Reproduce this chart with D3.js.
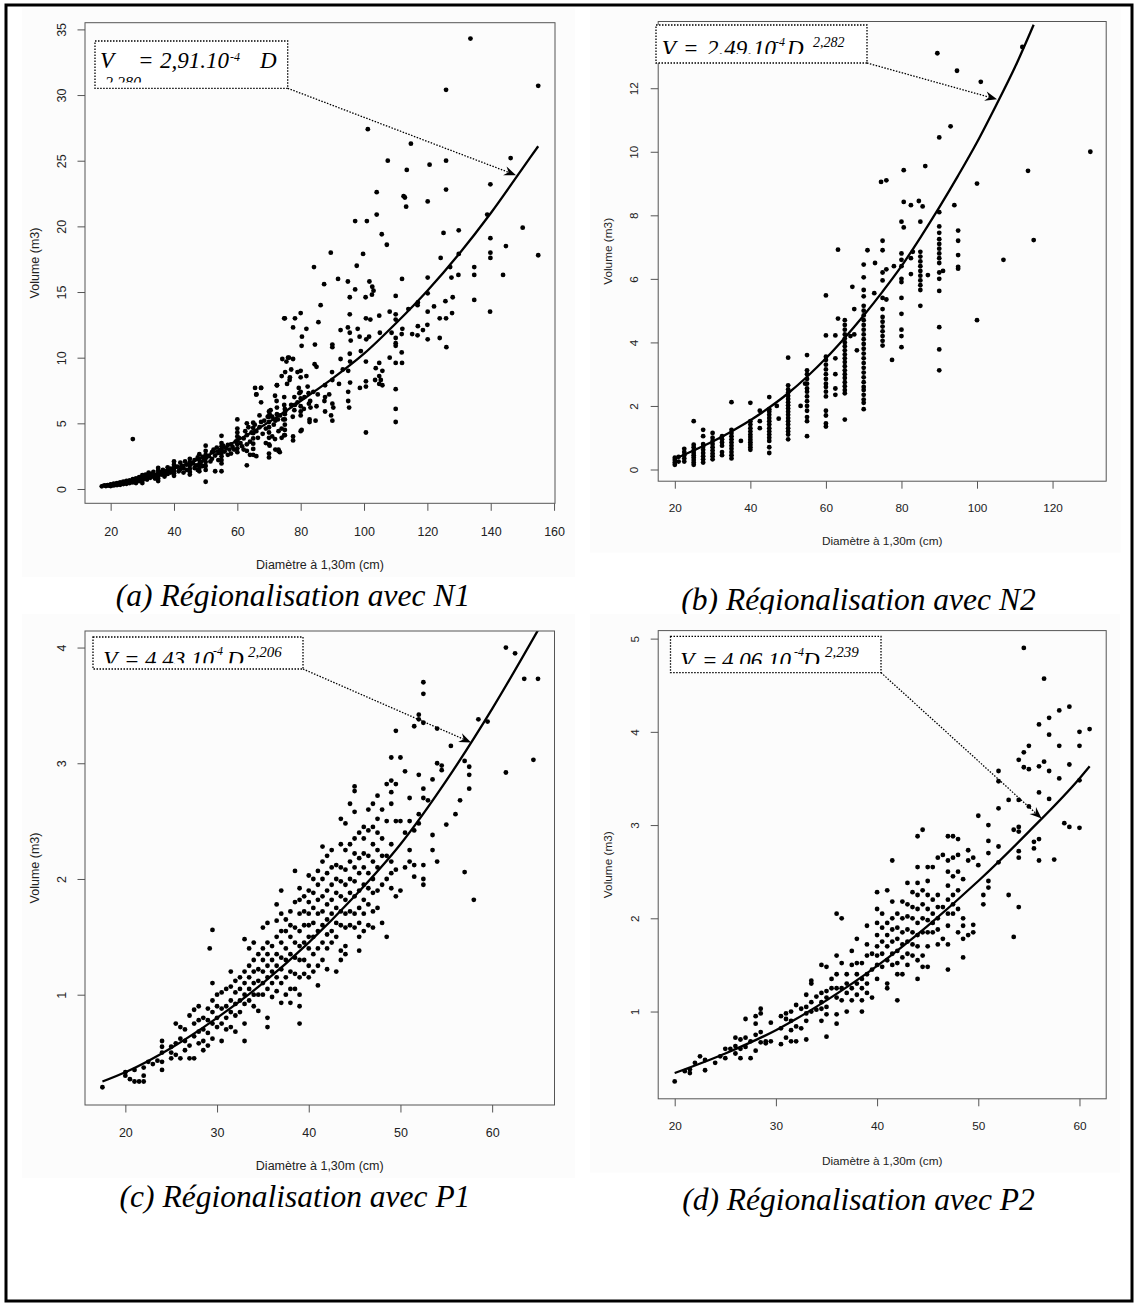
<!DOCTYPE html>
<html>
<head>
<meta charset="utf-8">
<script src="https://cdn.jsdelivr.net/npm/d3@7"></script>
<style>
body { margin: 0; background: #fff; }
text { font-family: "Liberation Sans", Arial, sans-serif; }
.cap, .eq { font-family: "Liberation Serif", "Times New Roman", serif; font-style: italic; }
</style>
</head>
<body>
<svg id="fig" width="1137" height="1305"></svg>
<script>
// ---- data: [diametre (cm), volume (m3)] ----

var ptsN1 = [
[17.2,0.2],[18,0.28],[18.5,0.22],[19,0.3],[19.5,0.25],[20,0.35],[20,0.22],[20.5,0.3],[21,0.4],[21,0.27],[21.5,0.33],[22,0.45],[22,0.3],[22.5,0.38],[23,0.5],[23,0.32],[23.5,0.42],[24,0.55],[24,0.38],[24.5,0.48],[25,0.62],[25,0.4],[25.5,0.52],[26,0.66],[26,0.45],[26.5,0.58],[27,0.75],[27,0.5],[27,3.8],[27.5,0.62],[28,0.8],[28,0.45],[28.5,0.68],[29,0.9],[29,0.6],[29.5,0.75],
[30,1.05],[30,0.85],[30,0.65],[30,0.45],[30.5,0.78],[31,1.1],[31,0.9],[31.5,0.72],[32,1.25],[32,1.0],[32.5,0.85],[33,1.15],[33,0.95],[33.5,1.3],[34,1.05],[34,0.8],[35,1.6],[35,1.4],[35,1.2],[35,1.0],[35,0.8],[35,0.6],[35.5,1.3],[36,1.1],[36.5,1.45],[37,1.2],[37,0.95],[37.5,1.35],[38,1.65],[38,1.15],[38.5,1.4],[39,1.55],[39,1.25],
[40,2.1],[40,1.85],[40,1.6],[40,1.4],[40,1.2],[40,1.0],[41,1.7],[41.5,1.35],[42,2.0],[42,1.5],[42.5,1.75],[43,1.6],[43,1.25],[43.5,2.1],[44,1.85],[44,1.45],[45,2.3],[45,2.05],[45,1.8],[45,1.55],[45,1.3],[45,1.1],[46,1.95],[46.5,2.2],[46.5,1.6],[47,1.8],[47.5,2.4],[47.5,1.45],[48,2.65],[48,2.2],[48,1.9],[48,1.6],[48,1.35],[48.5,2.05],[49,2.45],[49,1.75],[49.5,2.2],
[50,3.3],[50,2.9],[50,2.6],[50,2.35],[50,2.05],[50,1.75],[50,1.45],[50,0.55],[51,2.5],[51.5,2.1],[52,2.8],[52,2.3],[52.5,3.0],[53,2.55],[53,1.35],[53.5,3.15],[54,2.75],[54,2.2],[54.5,2.95],[55,4.05],[55,3.5],[55,3.25],[55,3.0],[55,2.75],[55,2.5],[55,2.2],[55,1.95],[55,1.35],[55.5,3.3],[56,2.85],[56.5,3.1],[57,3.35],[57,2.6],[57.5,3.0],[58,3.4],[58,2.7],[58.5,3.2],[59,3.0],[59.5,3.6],
[60,5.3],[60,4.6],[60,4.3],[60,4.0],[60,3.7],[60,3.4],[60,3.1],[60,2.8],[60.5,3.9],[61,3.5],[61.5,3.25],[62,3.85],[62,3.0],[62.5,4.4],[63,5.0],[63,4.1],[63,3.4],[63,2.9],[63,1.8],[63.5,4.7],[64,3.6],[64,2.6],[64.5,4.3],[65,5.05],[65,4.65],[65,4.25],[65,3.85],[65,3.45],[65,3.05],[65,2.6],[65.5,4.9],[66,7.2],[66,4.4],[66,2.5],[66.5,3.9],[67,5.6],[67,4.7],[67.5,7.7],[67.5,6.6],[67.5,5.1],[68,4.2],[68.5,5.2],[69,4.6],[69,3.5],
[70,5.9],[70,5.5],[70,5.1],[70,4.7],[70,4.3],[70,3.9],[70,3.4],[70,2.7],[70,2.4],[70.5,6.0],[71,5.5],[71,4.0],[71.5,4.9],[72,5.2],[72,3.0],[72.5,6.2],[72.5,7.9],[73,4.4],[73,2.9],[73.5,5.6],[74,4.6],[74,3.9],[74.5,5.3],[75,6.1],[75,5.7],[75,5.3],[75,4.9],[75,4.5],[75,4.1],[75,13.0],
[75.5,9.7],[76,10.0],[76.3,10.0],[76.5,8.3],[77,9.1],[77,6.4],[77.5,5.5],[78,6.0],[78.2,13.0],[79,6.6],[79,8.9],[74.8,13.0],[77.6,12.3],[80,13.4],[80,9.0],[80,8.5],[80,7.4],[80,6.9],[80,6.3],[80,4.4],[80.4,11.6],[80.3,10.9],[81,6.1],[81.8,12.2],[82.5,7.3],[83,6.7],[84.2,16.9],[84.4,9.5],[84.5,11.0],[85,9.3],[85.6,12.7],[86.3,14.0],[87.4,15.6],
[74.2,9.9],[77.6,9.9],[75.1,8.9],[74,8.6],[76.6,8.5],[81.8,8.6],[75.7,8.0],[72.5,7.9],[82.2,7.8],[87.7,7.9],[92.1,8.0],[65.6,7.7],[67.5,7.7],[79.4,7.7],[79.6,7.3],[81.2,7.0],[78,7.0],[84,7.4],[85.4,7.2],[87.7,7.0],[89,7.2],[71.9,7.1],[74.8,7.0],[66,7.2],[78.2,6.4],[74.8,6.4],[72.4,6.7],[82.6,6.5],[85,6.3],[87.5,6.7],[90,6.5],[90.3,6.2],[83.1,6.2],[80,5.9],[80,5.6],[87.7,5.9],[89.6,5.6],[75.1,5.9],[72.5,5.7],[70.2,5.7],[72.8,5.3],[69.6,5.5],[82.8,5.3],[84.7,5.2],[82.8,5.1],[90,5.2],[80.3,4.5],[77.6,4.0],[77.6,3.7],[74.8,4.1],[71.9,3.8],[73,3.0],[73.4,2.8],[70.2,3.3],
[89.5,18.0],[89.9,8.9],[90,11.0],[90,10.8],[90,8.3],[91.8,16.0],[92.6,12.1],[92.6,9.9],[93.3,9.1],[94.9,15.8],[94.9,12.3],[95,9.0],[95,7.4],[95,6.7],[95.3,6.2],[95.5,14.6],[95.5,13.3],[95.5,11.9],[95.5,10.3],[95.6,9.7],[95.6,8.1],[95.8,11.3],[97.2,20.4],[97.2,15.2],[97.7,17.0],[98,12.2],[98.6,11.6],[98.7,7.7],[99,10.5],[99.7,17.9],
[100.5,14.6],[100.6,13.0],[100.6,9.7],[100.6,8.2],[100.6,7.8],[100.6,4.3],[100.7,11.4],[100.9,20.4],[101.2,27.4],[101.6,11.6],[101.7,15.8],[102,12.9],[102.5,14.8],[102.6,15.4],[103,15.1],[103.5,8.3],[103.7,9.2],[104,22.6],[104,20.9],[104.8,13.2],[104.8,9.6],[104.8,8.6],[104.8,8.0],[105,11.9],[105.3,8.3],[105.6,19.4],[105.8,9.0],[105.8,7.9],[107.2,18.6],[107.5,25.0],[108.1,13.5],[108.1,10.0],[108.7,11.9],
[110,14.7],[110,13.3],[110,12.9],[110,11.5],[110,11.1],[110,10.9],[110,9.6],[110,7.6],[110,6.1],[110,5.1],[111.9,11.8],[111.9,10.4],[112,16.0],[112,9.6],[112.1,12.2],[112.5,22.3],[112.9,22.2],[113.3,21.5],[113.5,24.3],[114,13.7],[114.8,26.3],[115.2,11.8],[116.9,14.0],[116.9,11.7],[117,14.2],[117,12.4],[118.6,12.1],[120,12.5],[120.1,21.9],[120.1,16.1],[120.1,14.9],[120.1,13.5],[120.1,11.4],[120.7,24.7],[122.1,13.9],[123.9,13.0],[123.9,11.5],[124.2,17.6],
[125.1,19.5],[125.7,14.3],[125.9,30.4],[125.9,25.0],[125.9,22.8],[125.9,13.0],[126,10.8],[127.2,16.9],[127.6,16.1],[127.8,13.4],[128,14.6],[129.8,16.3],[129.9,19.7],[129.9,17.9],[133.6,34.3],[134.8,16.9],[134.8,16.3],[134.8,14.4],[138.9,20.9],[139.8,13.5],[139.9,23.2],[139.9,19.1],[139.9,18.0],[139.9,17.6],[143.9,16.3],[144.8,18.5],[146.3,25.2],[150.1,19.9],[155,30.7],[155,17.8]
];

var ptsN2 = [
[20,0.15],[20,0.22],[20,0.3],[20,0.37],[21,0.25],[21,0.4],[22.5,0.25],[22.5,0.35],[22.5,0.45],[22.5,0.55],[22.5,0.65],
[25,0.15],[25,0.22],[25,0.3],[25,0.38],[25,0.45],[25,0.52],[25,0.6],[25,0.7],[25,0.78],[25,1.52],
[27.5,0.22],[27.5,0.32],[27.5,0.42],[27.5,0.52],[27.5,0.62],[27.5,0.72],[27.5,0.8],[27.5,1.05],[27.5,1.25],
[30,0.32],[30,0.42],[30,0.5],[30,0.6],[30,0.7],[30,0.8],[30,0.9],[30,1.0],[30,1.15],
[32.5,0.45],[32.5,0.55],[32.5,0.75],[32.5,0.85],[32.5,0.95],[32.5,1.05],
[35,0.35],[35,0.45],[35,0.55],[35,0.65],[35,0.75],[35,0.85],[35,0.95],[35,1.05],[35,1.15],[35,1.25],[35,2.12],[37.5,0.9],
[40,0.62],[40,0.7],[40,0.78],[40,0.86],[40,0.94],[40,1.02],[40,1.1],[40,1.2],[40,1.3],[40,1.42],[40,1.52],[40,2.1],[42.5,1.3],[42.5,1.52],[42.5,1.85],
[45,0.52],[45,0.7],[45,0.9],[45,1.0],[45,1.1],[45,1.2],[45,1.3],[45,1.42],[45,1.52],[45,1.62],[45,1.72],[45,1.82],[45,1.9],[45,2.28],[47.5,1.6],[47,2.0],
[50,0.95],[50,1.1],[50,1.2],[50,1.3],[50,1.42],[50,1.52],[50,1.62],[50,1.72],[50,1.82],[50,1.92],[50,2.02],[50,2.12],[50,2.22],[50,2.32],[50,2.42],[50,2.52],[50,2.65],[50,3.52],[53.3,2.0],[54.5,2.7],
[55,1.05],[55,1.52],[55,1.65],[55,1.85],[55,2.0],[55,2.15],[55,2.3],[55,2.45],[55,2.55],[55,2.7],[55,2.85],[55,3.0],[55,3.12],[55,3.6],
[60,1.35],[60,1.45],[60,1.7],[60,1.85],[60,2.3],[60,2.45],[60,2.6],[60,2.7],[60,2.85],[60,3.0],[60,3.15],[60,3.3],[60,3.45],[60,3.55],[60,4.22],[60,5.48],
[62.5,2.35],[62.5,2.55],[62.5,3.0],[62.5,3.5],[62.5,4.22],[63.2,4.75],[63.2,6.92],
[65,1.57],[65,2.4],[65,2.5],[65,2.62],[65,2.75],[65,2.88],[65,3.0],[65,3.12],[65,3.25],[65,3.38],[65,3.5],[65,3.62],[65,3.75],[65,3.88],[65,4.0],[65,4.12],[65,4.25],[65,4.4],[65,4.55],[65,4.7],
[66.5,4.2],[67,5.75],[67.5,4.25],[67.5,5.05],[68.2,3.75],
[70,1.9],[70,2.1],[70,2.2],[70,2.35],[70,2.5],[70,2.6],[70,2.75],[70,2.9],[70,3.05],[70,3.2],[70,3.35],[70,3.5],[70,3.65],[70,3.8],[70,3.95],[70,4.1],[70,4.25],[70,4.4],[70,4.55],[70,4.7],[70,4.85],[70,5.0],[70,5.15],[70,5.45],[70,5.65],[70,6.05],[70,6.45],[71,6.9],[72.8,5.55],[73,6.5],
[75,3.9],[75,4.05],[75,4.2],[75,4.35],[75,4.5],[75,4.65],[75,4.8],[75,5.05],[75,5.4],[75,5.95],[75,6.2],[75,6.9],[75,7.2],[74.6,9.05],[76,9.1],[76,6.3],[76,5.35],[77.5,3.45],[78,6.4],
[80,3.85],[80,4.2],[80,4.4],[80,4.9],[80,5.4],[80,5.9],[80,6.0],[80,6.4],[80,6.6],[80,6.8],[80,7.8],[80.6,7.62],[80.6,8.42],[80.6,9.42],[82.5,6.15],[82.5,6.65],[82.5,8.32],[83,6.85],
[85,5.15],[85,5.65],[85,5.8],[85,5.95],[85,6.1],[85,6.25],[85,6.4],[85,6.55],[85,6.7],[85,6.85],[85,7.8],[84.6,8.45],[85.6,8.28],[86.3,9.55],[87,6.12],
[90,3.12],[90,3.78],[90,4.48],[90,5.62],[90,6.0],[90,6.2],[90,6.5],[90,6.65],[90,6.8],[90,6.95],[90,7.1],[90,7.25],[90,7.45],[90,7.65],[90,8.1],[90,10.45],[89.5,13.1],[91,6.25],[93,10.8],[94,8.32],[94.7,12.55],
[95,6.32],[95,6.38],[95,6.75],[95,7.2],[95,7.52],[100,9.0],[100,4.7],[101,12.2],[107,6.6],[112,13.3],[113.5,9.4],[115,7.22],[130,10.0]
];

var ptsP1 = [
[17.5,0.2],[20,0.3],[20,0.33],[20.5,0.27],[21,0.25],[21,0.35],[21.5,0.25],[22,0.25],[22,0.3],[22,0.37],[22.5,0.42],[23,0.4],[23.5,0.43],[24,0.35],[24,0.42],[24,0.5],[24,0.55],[24,0.6],
[25,0.45],[25,0.5],[25,0.55],[25.5,0.48],[25.5,0.58],[25.5,0.75],[26,0.45],[26,0.62],[26,0.72],[26.5,0.52],[26.5,0.6],[26.5,0.7],[27,0.45],[27,0.56],[27,0.82],[27.5,0.45],[27.5,0.64],[27.5,0.75],[27.5,0.87],[28,0.58],[28,0.68],[28,0.78],[28,0.9],[28.5,0.52],[28.5,0.6],[28.5,0.7],[28.5,0.8],[29,0.56],[29,0.67],[29,0.78],[29,0.88],[29.2,1.4],[29.5,0.62],[29.5,0.75],[29.5,0.85],[29.5,0.95],[29.5,1.1],[29.5,1.56],
[30,0.72],[30,0.8],[30,0.9],[30,1.0],[30.5,0.6],[30.5,0.75],[30.5,0.88],[30.5,1.02],[31,0.7],[31,0.8],[31,0.9],[31,1.05],[31.5,0.72],[31.5,0.85],[31.5,0.95],[31.5,1.07],[31.5,1.2],[32,0.68],[32,0.82],[32,0.92],[32,1.02],[32,1.12],[32.5,0.85],[32.5,0.95],[32.5,1.05],[32.5,1.15],
[33,0.6],[33,0.75],[33,0.92],[33,1.0],[33,1.1],[33,1.2],[33,1.48],[33.5,0.95],[33.5,1.05],[33.5,1.15],[33.5,1.25],[33.5,1.4],[34,0.9],[34,1.0],[34,1.1],[34,1.2],[34,1.3],[34,1.45],[34.5,0.86],[34.5,1.0],[34.5,1.12],[34.5,1.22],[34.5,1.35],
[35,1.0],[35,1.1],[35,1.2],[35,1.3],[35,1.4],[35,1.58],[35.5,0.72],[35.5,0.8],[35.5,1.05],[35.5,1.15],[35.5,1.25],[35.5,1.35],[35.5,1.45],[35.5,1.62],[36,0.98],[36,1.1],[36,1.2],[36,1.3],[36,1.42],[36.5,1.03],[36.5,1.15],[36.5,1.25],[36.5,1.35],[36.5,1.5],[36.5,1.64],[36.5,1.78],
[37,0.93],[37,1.1],[37,1.22],[37,1.32],[37,1.45],[37,1.55],[37,1.7],[37,1.9],[37.5,1.0],[37.5,1.15],[37.5,1.3],[37.5,1.4],[37.5,1.55],[37.5,1.65],[38,0.93],[38,1.05],[38,1.2],[38,1.35],[38,1.5],[38,1.6],[38,1.72],[38.5,1.05],[38.5,1.18],[38.5,1.32],[38.5,1.45],[38.5,1.58],[38.5,1.8],[38.5,2.07],
[39,0.75],[39,0.9],[39,1.0],[39,1.15],[39,1.3],[39,1.42],[39,1.55],[39,1.7],[39,1.82],[39,1.92],[39.5,1.18],[39.5,1.3],[39.5,1.45],[39.5,1.6],[39.5,1.72],[39.5,1.85],
[40,1.15],[40,1.25],[40,1.4],[40,1.5],[40,1.6],[40,1.7],[40,1.8],[40,1.9],[40,2.03],[40.5,1.2],[40.5,1.35],[40.5,1.5],[40.5,1.62],[40.5,1.75],[40.5,1.88],[40.5,2.0],[41,1.08],[41,1.25],[41,1.4],[41,1.55],[41,1.7],[41,1.82],[41,1.95],[41,2.07],[41.5,1.3],[41.5,1.45],[41.5,1.6],[41.5,1.72],[41.5,1.85],[41.5,2.0],[41.5,2.15],[41.5,2.28],
[42,1.22],[42,1.4],[42,1.52],[42,1.65],[42,1.78],[42,1.9],[42,2.05],[42,2.2],[42.5,1.45],[42.5,1.55],[42.5,1.7],[42.5,1.82],[42.5,1.95],[42.5,2.1],[42.5,2.25],[43,1.2],[43,1.5],[43,1.62],[43,1.75],[43,1.88],[43,2.0],[43,2.12],[43.5,1.3],[43.5,1.38],[43.5,1.6],[43.5,1.72],[43.5,1.85],[43.5,1.98],[43.5,2.1],[43.5,2.3],[43.5,2.52],
[44,1.35],[44,1.42],[44,1.58],[44,1.7],[44,1.82],[44,1.95],[44,2.08],[44,2.25],[44,2.48],[44.5,1.6],[44.5,1.72],[44.5,1.88],[44.5,2.0],[44.5,2.15],[44.5,2.3],[44.5,2.65],[45,1.58],[45,1.7],[45,1.85],[45,1.98],[45,2.1],[45,2.22],[45,2.35],[45,2.58],[45,2.76],[45,2.8],
[45.5,1.38],[45.5,1.5],[45.5,1.62],[45.5,1.75],[45.5,1.9],[45.5,2.05],[45.5,2.18],[45.5,2.4],[46,1.55],[46,1.7],[46,1.82],[46,1.95],[46,2.1],[46,2.22],[46,2.35],[46,2.45],[46.5,1.6],[46.5,1.78],[46.5,1.92],[46.5,2.05],[46.5,2.2],[46.5,2.42],[46.5,2.6],
[47,1.58],[47,1.72],[47,1.88],[47,2.0],[47,2.15],[47,2.3],[47,2.45],[47,2.65],[47.5,1.75],[47.5,1.9],[47.5,2.1],[47.5,2.25],[47.5,2.4],[47.5,2.52],[47.5,2.72],[48,1.62],[48,1.95],[48,2.2],[48,2.35],[48,2.6],[48.5,1.5],[48.5,2.0],[48.5,2.2],[48.5,2.5],[48.5,2.82],
[49,1.92],[49,2.05],[49,2.15],[49,2.3],[49,2.65],[49,2.75],[49,2.85],[49,3.05],[49.5,1.85],[49.5,2.08],[49.5,2.5],[49.5,2.82],[49.5,3.28],[50,1.9],[50,2.5],[50,3.05],[50.5,2.1],[50.5,2.4],[50.5,2.93],[51,2.15],[51,2.25],[51,2.5],[51,2.7],[51.5,2.02],[51.5,2.12],[51.5,2.42],[51.5,3.32],
[52,2.48],[52,2.56],[52,2.9],[52,3.38],[52,3.42],[52.5,1.95],[52.5,2.0],[52.5,2.12],[52.5,2.7],[52.5,2.78],[52.5,3.35],[52.5,3.6],[52.5,3.7],[53,2.68],[53.5,2.25],[53.5,2.38],[53.5,2.86],[54,2.15],[54,3.0],[54,3.3],[54.5,2.94],[54.5,2.98],
[55,2.47],[55.5,3.15],[56,2.56],[56.5,2.68],[57,2.06],[57,3.02],[57.5,2.78],[57.5,2.9],[57.5,2.97],[58,1.82],[58.5,3.38],[59.5,3.36],[61.5,2.92],[61.5,4.0],[62.5,3.95],[63.5,3.73],[64.5,3.03],[65,3.73]
];

var ptsP2 = [
[20,0.25],[21,0.36],[21.5,0.34],[21.5,0.38],[22,0.45],[22.5,0.52],[23,0.37],[23,0.48],[24,0.45],[24.5,0.52],[25,0.5],[25,0.6],[25.5,0.6],[26,0.55],[26,0.63],[26,0.72],[26.5,0.5],[26.5,0.6],[26.5,0.7],[27,0.62],[27,0.72],[27,0.92],[27.5,0.5],[27.5,0.68],[28,0.58],[28,0.75],[28,0.87],[28,0.95],[28.5,0.67],[28.5,0.78],[28.5,0.98],[28.5,1.03],[29,0.66],[29,0.68],[29.5,0.68],[29.5,0.88],
[30.5,0.65],[30.5,0.82],[30.5,0.95],[31,0.72],[31,0.92],[31,0.98],[31.5,0.68],[31.5,0.8],[31.5,0.9],[31.5,1.0],[32,0.68],[32,0.84],[32,1.07],[32.5,0.82],[32.5,1.03],[33,0.7],[33,0.9],[33,0.98],[33,1.05],[33,1.18],[33.5,1.0],[33.5,1.1],[33.5,1.3],[33.5,1.33],[34,1.02],[34,1.16],[34.5,0.9],[34.5,1.03],[34.5,1.1],[34.5,1.2],[34.5,1.5],
[35,0.73],[35,0.97],[35,1.05],[35,1.15],[35,1.22],[35,1.48],[35.5,1.25],[35.5,1.35],[36,0.87],[36,0.97],[36,1.15],[36,1.25],[36,1.4],[36,1.6],[36,2.05],[36.5,1.12],[36.5,1.25],[36.5,1.52],[36.5,2.0],[37,1.0],[37,1.2],[37,1.3],[37,1.4],[37.5,1.12],[37.5,1.25],[37.5,1.5],[37.5,1.65],
[38,1.18],[38,1.3],[38,1.4],[38,1.52],[38,1.78],[38.5,1.0],[38.5,1.12],[38.5,1.25],[38.5,1.35],[38.5,1.52],[39,1.2],[39,1.3],[39,1.4],[39,1.6],[39,1.72],[39,1.92],[39.5,1.15],[39.5,1.45],[39.5,1.62],
[40,1.35],[40,1.5],[40,1.6],[40,1.7],[40,1.82],[40,1.95],[40,2.1],[40,2.28],[40.5,1.48],[40.5,1.62],[40.5,1.75],[40.5,1.9],[40.5,2.05],[41,1.25],[41,1.3],[41,1.55],[41,1.7],[41,1.82],[41,1.95],[41,2.3],[41.5,1.5],[41.5,1.62],[41.5,1.75],[41.5,1.88],[41.5,2.0],[41.5,2.18],[41.5,2.62],
[42,1.12],[42,1.4],[42,1.52],[42,1.65],[42,1.78],[42,1.9],[42,2.05],[42.5,1.4],[42.5,1.58],[42.5,1.72],[42.5,1.85],[42.5,2.0],[42.5,2.18],[43,1.5],[43,1.62],[43,1.75],[43,1.88],[43,2.02],[43,2.15],[43,2.38],[43.5,1.6],[43.5,1.72],[43.5,1.85],[43.5,2.0],[43.5,2.12],[43.5,2.28],
[44,1.35],[44,1.55],[44,1.7],[44,1.82],[44,1.95],[44,2.1],[44,2.25],[44,2.38],[44,2.55],[44,2.88],[44.5,1.48],[44.5,1.6],[44.5,1.85],[44.5,2.0],[44.5,2.15],[44.5,2.3],[44.5,2.95],[45,1.48],[45,1.7],[45,1.85],[45,1.98],[45,2.1],[45,2.25],[45,2.4],[45,2.55],
[45.5,1.85],[45.5,1.95],[45.5,2.05],[45.5,2.2],[45.5,2.55],[46,1.72],[46,1.88],[46,2.0],[46,2.12],[46,2.25],[46,2.65],[46.5,1.78],[46.5,2.12],[46.5,2.68],[47,1.45],[47,1.72],[47,1.92],[47,2.05],[47,2.2],[47,2.35],[47,2.5],[47,2.62],[47,2.88],[47.5,2.05],[47.5,2.15],[47.5,2.25],[47.5,2.45],[47.5,2.65],[47.5,2.88],
[48,1.85],[48,2.1],[48,2.3],[48,2.5],[48,2.68],[48,2.85],[48.5,1.58],[48.5,1.78],[48.5,1.92],[48.5,2.0],[48.5,2.42],[49,1.82],[49,2.62],[49,2.73],[49.5,1.85],[49.5,1.93],[49.5,2.65],[50,2.57],[50,3.1],[50.5,2.15],[50.5,2.25],[51,2.33],[51,2.4],[51,2.7],[51,2.83],[51,3.0],
[52,2.6],[52,2.77],[52,3.18],[52,3.47],[52,3.58],[53,2.25],[53,3.27],[53.5,1.8],[53.5,2.95],[54,2.12],[54,2.65],[54,2.72],[54,2.93],[54,2.98],[54,3.27],[54,3.7],[54.5,3.62],[54.5,3.78],[54.5,4.9],[55,3.2],[55,3.6],[55,3.85],[55.5,2.75],[55.5,2.82],
[56,2.62],[56,2.85],[56,3.35],[56,3.63],[56,4.08],[56.5,3.68],[56.5,4.57],[57,3.28],[57,3.58],[57,3.97],[57,4.15],[57.5,2.63],[58,3.5],[58,3.85],[58,4.23],[58.5,3.02],[59,2.98],[59,3.65],[59,4.27],[60,2.97],[60,3.48],[60,3.85],[60,4.0],[61,4.03]
];

// fitted curves
var fitN1 = [[17,0.25],[20,0.38],[30,0.85],[40,1.55],[50,2.5],[60,3.7],[70,5.1],[80,6.7],[90,8.4],[100,10.3],[110,12.6],[120,15.1],[130,17.9],[140,21.0],[150,24.4],[155,26.1]];
var fitN2 = [[20,0.34],[25,0.6],[30,0.88],[35,1.2],[40,1.55],[45,1.95],[50,2.4],[55,2.92],[60,3.5],[65,4.15],[70,4.85],[75,5.6],[80,6.4],[85,7.3],[90,8.25],[95,9.25],[100,10.3],[105,11.45],[110,12.65],[115,14.0]];
var fitP1 = [[17.5,0.25],[20,0.33],[25,0.54],[30,0.8],[35,1.1],[40,1.45],[45,1.85],[50,2.3],[55,2.85],[60,3.47],[65,4.15]];
var fitP2 = [[20,0.34],[25,0.55],[30,0.8],[35,1.12],[40,1.49],[45,1.92],[50,2.4],[55,2.93],[60,3.5],[61,3.63]];

var ticksXN1 = [20, 40, 60, 80, 100, 120, 140, 160];
var ticksYN1 = [0, 5, 10, 15, 20, 25, 30, 35];
var ticksXN2 = [20, 40, 60, 80, 100, 120];
var ticksYN2 = [0, 2, 4, 6, 8, 10, 12];
var ticksXP = [20, 30, 40, 50, 60];
var ticksYP1 = [1, 2, 3, 4];
var ticksYP2 = [1, 2, 3, 4, 5];

var captions = ["(a) Régionalisation avec N1", "(b) Régionalisation avec N2", "(c) Régionalisation avec P1", "(d) Régionalisation avec P2"];
var xTitle = "Diamètre à 1,30m (cm)";
var yTitle = "Volume (m3)";

// equation text pieces
var eqN1 = ["V", "=", "2,91.10", "-4", "D", "2,280"];
var eqN2 = ["V", "=", "2.49.10", "-4", "D", "2,282"];
var eqP1 = ["V", "=", "4.43.10", "-4", "D", "2,206"];
var eqP2 = ["V", "=", "4.06.10", "-4", "D", "2,239"];

// arrow targets on each curve (data units)
var arrowN1 = [148, 23.9], arrowN2 = [105.3, 11.65], arrowP1 = [57.7, 3.18], arrowP2 = [56.26, 3.07];

// ---- layout ----
var panels = [
  { id: "a", pts: ptsN1, fit: fitN1, xt: ticksXN1, yt: ticksYN1, cap: captions[0], eq: eqN1, arrow: arrowN1,
    xDom: [11.9, 160.3], yDom: [-1.09, 35.51], L: 85, R: 555, T: 22.7, B: 503.3,
    ylabX: 61.7, ytitX: 34.5, xlabY: 531.7, xtitY: 565, fs: 12.5,
    capX: 293, capY: 606, bg: [22, 8, 575, 577],
    eqBox: [95, 41, 287.7, 88.3], eqClip: 82.5,
    eqPos: [[100, 68.3, 23], [138, 68.3, 23], [160, 68.3, 23], [230, 61, 12], [260, 68.3, 23], [105, 88, 16]] },
  { id: "b", pts: ptsN2, fit: fitN2, xt: ticksXN2, yt: ticksYN2, cap: captions[1], eq: eqN2, arrow: arrowN2,
    xDom: [15.6, 134.2], yDom: [-0.368, 14.1], L: 658.2, R: 1106.2, T: 21.5, B: 481.2,
    ylabX: 634, ytitX: 608, xlabY: 508, xtitY: 540.5, fs: 11.8,
    capX: 858.5, capY: 610, bg: [590, 8, 1120.5, 552.5],
    eqBox: [656, 25, 867, 63], eqClip: 54,
    eqPos: [[661.7, 55.5, 23], [683, 55.5, 23], [707, 55.5, 23], [775, 46, 12], [787, 55.5, 23], [813, 46.7, 14]] },
  { id: "c", pts: ptsP1, fit: fitP1, xt: ticksXP, yt: ticksYP1, cap: captions[2], eq: eqP1, arrow: arrowP1,
    xDom: [15.6, 66.8], yDom: [0.0467, 4.143], L: 85, R: 554.5, T: 631, B: 1105,
    ylabX: 62, ytitX: 34.5, xlabY: 1132.7, xtitY: 1166, fs: 12.5,
    capX: 295, capY: 1206.7, bg: [22, 614, 575, 1178],
    eqBox: [93, 637, 303, 669], eqClip: 663.3,
    eqPos: [[103.3, 667, 23], [124, 667, 23], [145, 667, 23], [213, 655, 12], [227, 667, 23], [248, 656.7, 15]] },
  { id: "d", pts: ptsP2, fit: fitP2, xt: ticksXP, yt: ticksYP2, cap: captions[3], eq: eqP2, arrow: arrowP2,
    xDom: [18.37, 62.64], yDom: [0.064, 5.086], L: 658.2, R: 1106.2, T: 630.6, B: 1098.8,
    ylabX: 635, ytitX: 608, xlabY: 1126.2, xtitY: 1160.5, fs: 11.8,
    capX: 858.5, capY: 1210, bg: [590, 614, 1120, 1172.5],
    eqBox: [670.5, 636.4, 881, 672.6], eqClip: 664,
    eqPos: [[680.3, 668, 23], [702, 668, 23], [722, 668, 23], [794, 656, 12], [803, 668, 23], [825, 657, 15]] }
];

var svg = d3.select("#fig");
var defs = svg.append("defs");

// outer frame
svg.append("rect").attr("x", 6).attr("y", 5).attr("width", 1126).attr("height", 1296)
  .attr("fill", "none").attr("stroke", "#000").attr("stroke-width", 3);

function drawPanel(p) {
  var x = d3.scaleLinear().domain(p.xDom).range([p.L, p.R]);
  var y = d3.scaleLinear().domain(p.yDom).range([p.B, p.T]);
  var g = svg.append("g");

  g.append("rect").attr("x", p.bg[0]).attr("y", p.bg[1])
    .attr("width", p.bg[2] - p.bg[0]).attr("height", p.bg[3] - p.bg[1])
    .attr("fill", "#fcfcfc");

  defs.append("clipPath").attr("id", "plot" + p.id).append("rect")
    .attr("x", p.L).attr("y", p.T).attr("width", p.R - p.L).attr("height", p.B - p.T);

  var inner = g.append("g").attr("clip-path", "url(#plot" + p.id + ")");
  inner.selectAll("circle").data(p.pts).join("circle")
    .attr("cx", function (d) { return x(d[0]); })
    .attr("cy", function (d) { return y(d[1]); })
    .attr("r", 2.4).attr("fill", "#000");

  var line = d3.line().curve(d3.curveMonotoneX)
    .x(function (d) { return x(d[0]); })
    .y(function (d) { return y(d[1]); });
  inner.append("path").datum(p.fit).attr("d", line)
    .attr("fill", "none").attr("stroke", "#000").attr("stroke-width", 2.3);

  // axes
  var ax = g.append("g").attr("transform", "translate(0," + p.B + ")")
    .call(d3.axisBottom(x).tickValues(p.xt).tickFormat(d3.format("d")).tickSize(7.5).tickSizeOuter(0));
  ax.select(".domain").remove();
  ax.selectAll("line").attr("stroke", "#555");
  ax.selectAll("text").attr("y", p.xlabY - p.B).attr("dy", "0.35em")
    .attr("fill", "#222").style("font-size", p.fs + "px")
    .style("font-family", "'Liberation Sans', Arial, sans-serif");

  var ay = g.append("g").attr("transform", "translate(" + p.L + ",0)")
    .call(d3.axisLeft(y).tickValues(p.yt).tickFormat(d3.format("d")).tickSize(7.5).tickSizeOuter(0));
  ay.select(".domain").remove();
  ay.selectAll("line").attr("stroke", "#555");
  ay.selectAll("text").attr("x", null).attr("dy", "0.35em")
    .attr("text-anchor", "middle")
    .attr("transform", "translate(" + (p.ylabX - p.L) + ",0) rotate(-90)")
    .attr("fill", "#222").style("font-size", p.fs + "px")
    .style("font-family", "'Liberation Sans', Arial, sans-serif");

  g.append("rect").attr("x", p.L).attr("y", p.T).attr("width", p.R - p.L).attr("height", p.B - p.T)
    .attr("fill", "none").attr("stroke", "#555").attr("stroke-width", 1);

  g.append("text").attr("x", (p.L + p.R) / 2).attr("y", p.xtitY).attr("dy", "0.35em")
    .attr("text-anchor", "middle").attr("fill", "#222").style("font-size", p.fs + "px").text(xTitle);
  g.append("text").attr("transform", "translate(" + p.ytitX + "," + ((p.T + p.B) / 2) + ") rotate(-90)")
    .attr("dy", "0.35em").attr("text-anchor", "middle").attr("fill", "#222")
    .style("font-size", p.fs + "px").text(yTitle);

  // caption
  g.append("text").attr("class", "cap").attr("x", p.capX).attr("y", p.capY)
    .attr("text-anchor", "middle").style("font-size", "31.5px").attr("fill", "#000").text(p.cap);

  // equation box + arrow
  var b = p.eqBox;
  g.append("rect").attr("x", b[0]).attr("y", b[1]).attr("width", b[2] - b[0]).attr("height", b[3] - b[1])
    .attr("fill", "#fff").attr("stroke", "#000").attr("stroke-width", 1.3).attr("stroke-dasharray", "1.5,1.5");
  defs.append("clipPath").attr("id", "eq" + p.id).append("rect")
    .attr("x", b[0]).attr("y", b[1]).attr("width", b[2] - b[0]).attr("height", p.eqClip - b[1]);
  var eg = g.append("g").attr("clip-path", "url(#eq" + p.id + ")");
  eg.selectAll("text").data(p.eq).join("text").attr("class", "eq")
    .attr("x", function (d, i) { return p.eqPos[i][0]; })
    .attr("y", function (d, i) { return p.eqPos[i][1]; })
    .style("font-size", function (d, i) { return p.eqPos[i][2] + "px"; })
    .attr("fill", "#000")
    .text(function (d) { return d; });

  var x0 = b[2], y0 = b[3], x1 = x(p.arrow[0]), y1 = y(p.arrow[1]);
  var ang = Math.atan2(y1 - y0, x1 - x0);
  var len = 12, hw = 4.8, notch = 8;
  g.append("line").attr("x1", x0).attr("y1", y0)
    .attr("x2", x1 - Math.cos(ang) * notch).attr("y2", y1 - Math.sin(ang) * notch)
    .attr("stroke", "#000").attr("stroke-width", 1.3).attr("stroke-dasharray", "1.5,1.5");
  var c = Math.cos(ang), s = Math.sin(ang);
  function pt(u, v) { return [x1 + u * c - v * s, y1 + u * s + v * c]; }
  var head = [pt(0, 0), pt(-len, -hw), pt(-notch, 0), pt(-len, hw)];
  g.append("path").attr("d", "M" + head.map(function (q) { return q.join(","); }).join("L") + "Z")
    .attr("fill", "#000");
}

panels.forEach(drawPanel);
</script>
</body>
</html>
